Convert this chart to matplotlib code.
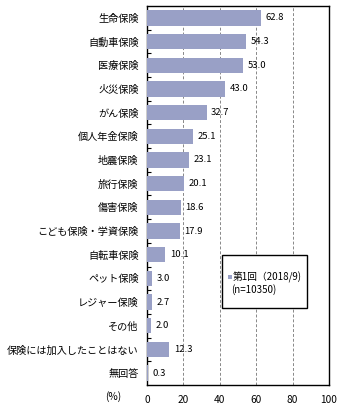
import matplotlib
matplotlib.use("Agg")
import matplotlib.pyplot as plt
from matplotlib.patches import Rectangle

plt.rcParams['font.family'] = ['Noto Sans CJK JP', 'DejaVu Sans']

categories = ["生命保険", "自動車保険", "医療保険", "火災保険", "がん保険", "個人年金保険",
              "地震保険", "旅行保険", "傷害保険", "こども保険・学資保険", "自転車保険",
              "ペット保険", "レジャー保険", "その他", "保険には加入したことはない", "無回答"]
values = [62.8, 54.3, 53.0, 43.0, 32.7, 25.1, 23.1, 20.1, 18.6, 17.9, 10.1, 3.0, 2.7, 2.0, 12.3, 0.3]
xticks = [0, 20, 40, 60, 80, 100]
legend_label = "第1回（2018/9)\n(n=10350)"

bar_color = "#99A0C6"
W, H = 359, 411
fig = plt.figure(figsize=(W / 100, H / 100), dpi=100)
ax = fig.add_axes([147 / W, 1 - 385 / H, (329 - 147) / W, (385 - 6) / H])

n = len(categories)
ypos = list(range(n))
ax.barh(ypos, values, height=0.65, color=bar_color, zorder=3)
ax.set_ylim(n - 0.5, -0.5)
ax.set_xlim(0, 100)

for y, v in zip(ypos, values):
    ax.text(v + 2.5, y, f"{v:.1f}", va="center", ha="left", fontsize=6.8, zorder=4)

ax.set_yticks(ypos)
ax.set_yticklabels(categories, fontsize=7.3)
ax.tick_params(axis="y", length=0, pad=6)
# minor ticks at category boundaries, inside
ax.set_yticks([i + 0.5 for i in range(n - 1)], minor=True)
ax.tick_params(axis="y", which="minor", direction="in", length=3, width=0.8)

ax.set_xticks(xticks)
ax.set_xticklabels([str(t) for t in xticks], fontsize=7.3)
ax.tick_params(axis="x", length=0, pad=7)

for t in xticks[1:-1]:
    ax.axvline(t, color="#888888", linestyle=(0, (3, 2)), linewidth=0.7, zorder=1)

for s in ax.spines.values():
    s.set_linewidth(1.0)
    s.set_color("black")

fig.text(113 / W, 1 - 397 / H, "(%)", fontsize=7.3, ha="center", va="center")

# legend box
lx0, lx1 = 221.7, 307.3
ly0, ly1 = 255, 308
fig.patches.append(Rectangle((lx0 / W, 1 - ly1 / H), (lx1 - lx0) / W, (ly1 - ly0) / H,
                             transform=fig.transFigure, facecolor="white",
                             edgecolor="black", linewidth=1.0, zorder=5))
fig.patches.append(Rectangle((228 / W, 1 - 279 / H), 4 / W, 4 / H,
                             transform=fig.transFigure, facecolor=bar_color,
                             edgecolor="none", zorder=6))
fig.text(233 / W, 1 - 277 / H, legend_label.split("\n")[0], fontsize=7.0, va="center", ha="left", zorder=6)
fig.text(231 / W, 1 - 290 / H, legend_label.split("\n")[1], fontsize=7.0, va="center", ha="left", zorder=6)

fig.savefig("out.png", dpi=100)
